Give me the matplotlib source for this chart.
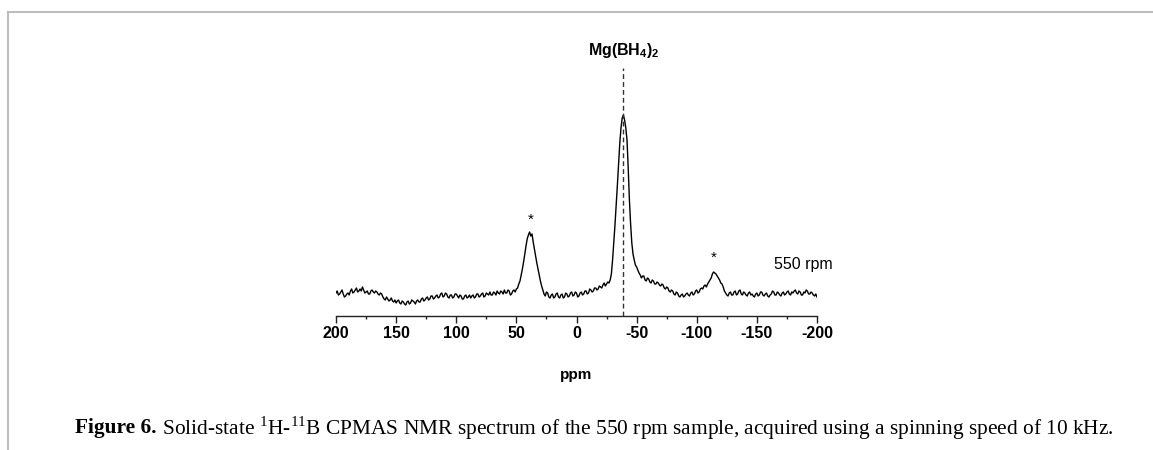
import numpy as np
import matplotlib
matplotlib.use("Agg")
import matplotlib.pyplot as plt
from matplotlib.lines import Line2D
from matplotlib.ticker import MultipleLocator

plt.rcParams['mathtext.fontset'] = 'custom'
plt.rcParams['mathtext.rm'] = 'Liberation Serif'
plt.rcParams['mathtext.bf'] = 'Liberation Sans:bold'
plt.rcParams['axes.unicode_minus'] = False

# 11B CPMAS spectrum, every 1 ppm from 200 to -200
ppm_start, ppm_end = 200, -200
intensity = [
    7, 9, 5, 6, 8, 10, 6, 3, 4, 6,                     # 200 .. 191
    7, 5, 9, 11, 7, 8, 10, 12, 8, 9,                   # 190 .. 181
    11, 9, 13, 10, 7, 8, 9, 6, 6, 9,                   # 180 .. 171
    10, 8, 7, 9, 8, 6, 5, 7, 6, 3,                     # 170 .. 161
    1, 0, 3, 1, -1, 0, 2, -1, -2, 0,                   # 160 .. 151
    -3, -1, 0, -3, -4, -1, -2, -4, -5, -2,             # 150 .. 141
    -1, -4, -3, 0, -1, -2, -4, -1, 0, -2,              # 140 .. 131
    -2, 1, 2, -1, 0, 2, 3, 0, 1, 4,                    # 130 .. 121
    4, 1, 2, 4, 5, 2, 3, 6, 7, 3,                      # 120 .. 111
    4, 7, 6, 3, 2, 5, 5, 2, 3, 6,                      # 110 .. 101
    6, 4, 2, 5, 4, 1, 1, 4, 5, 2,                      # 100 .. 91
    3, 5, 2, 4, 5, 2, 3, 6, 6, 3,                      # 90 .. 81
    4, 6, 7, 3, 4, 7, 6, 5, 8, 5,                      # 80 .. 71
    5, 8, 7, 5, 9, 7, 6, 9, 8, 6,                      # 70 .. 61
    10, 7, 7, 10, 9, 5, 6, 9, 10, 8,                   # 60 .. 51
    11, 12, 16, 19, 25, 31, 38, 46, 54, 61,            # 50 .. 41
    65, 68, 64, 66, 58, 51, 44, 37, 31, 25,            # 40 .. 31
    19, 14, 10, 6, 4, 8, 7, 3, 2, 5,                   # 30 .. 21
    6, 2, 3, 6, 7, 3, 2, 5, 6, 2,                      # 20 .. 11
    3, 7, 6, 3, 4, 7, 8, 4, 5, 8,                      # 10 .. 1
    7, 3, 4, 7, 8, 5, 6, 9, 9, 6,                      # 0 .. -9
    7, 11, 10, 8, 9, 12, 12, 10, 11, 14,               # -10 .. -19
    13, 12, 15, 17, 14, 16, 18, 17, 20, 26,            # -20 .. -29
    40, 57, 75, 95, 115, 137, 157, 172, 182, 185,      # -30 .. -39
    180, 172, 160, 132, 100, 76, 57, 46, 40, 35,       # -40 .. -49
    33, 30, 27, 25, 22, 24, 24, 20, 19, 22,            # -50 .. -59
    21, 18, 17, 20, 19, 16, 16, 18, 17, 15,            # -60 .. -69
    14, 16, 15, 12, 11, 13, 12, 9, 8, 10,              # -70 .. -79
    9, 6, 5, 8, 7, 4, 3, 5, 6, 3,                      # -80 .. -89
    4, 6, 7, 5, 4, 7, 8, 5, 6, 9,                      # -90 .. -99
    10, 7, 8, 11, 12, 11, 14, 15, 13, 16,              # -100 .. -109
    18, 20, 22, 26, 28, 27, 26, 24, 22, 20,            # -110 .. -119
    17, 16, 13, 9, 7, 5, 4, 7, 8, 5,                   # -120 .. -129
    5, 8, 9, 5, 6, 9, 10, 6, 5, 8,                     # -130 .. -139
    7, 5, 4, 7, 8, 5, 6, 4, 3, 6,                      # -140 .. -149
    7, 4, 5, 8, 8, 5, 4, 6, 7, 4,                      # -150 .. -159
    3, 5, 6, 9, 8, 5, 5, 8, 7, 5,                      # -160 .. -169
    4, 7, 8, 5, 6, 8, 9, 6, 5, 8,                      # -170 .. -179
    7, 9, 10, 7, 6, 9, 8, 5, 5, 8,                     # -180 .. -189
    7, 10, 9, 6, 6, 8, 7, 5, 4, 6,                     # -190 .. -199
    3,                                                 # -200
]
ppm = np.linspace(ppm_start, ppm_end, len(intensity))

peak_ppm = -39
peak_label = r"$\mathbf{Mg(BH}_{\mathbf{4}}\mathbf{)}_{\mathbf{2}}$"
sideband_ppm = [38, -114]
sideband_star_y = [80, 42]
sample_label = "550 rpm"
caption_bold = "Figure 6."
caption_rest = (" Solid-state $^{1}$H-$^{11}$B CPMAS NMR spectrum of the 550 rpm sample, "
                "acquired using a spinning speed of 10 kHz.")

fig = plt.figure(figsize=(11.53, 4.5), dpi=100)
ax = fig.add_axes([336 / 1153, 1 - 316 / 450, 481 / 1153, 256 / 450])

ax.plot(ppm, intensity, color="black", lw=1.0)
ax.plot([peak_ppm, peak_ppm], [-16, 232], color="#333333", lw=1.0, dashes=(3.5, 2.2))

ax.text(peak_ppm, 250, peak_label, ha="center", va="center", fontsize=11.5, clip_on=False)
for x, y in zip(sideband_ppm, sideband_star_y):
    ax.text(x, y, "*", ha="center", va="center", fontsize=11, family="Liberation Sans")
ax.text(-189, 36, sample_label, ha="center", va="center", fontsize=11.5, family="Liberation Sans")

ax.set_xlim(200, -200)
ax.set_ylim(-16, 240)
for s in ["top", "left", "right"]:
    ax.spines[s].set_visible(False)
ax.spines["bottom"].set_linewidth(1.0)
ax.spines["bottom"].set_color("#222222")
ax.set_yticks([])
ax.xaxis.set_major_locator(MultipleLocator(50))
ax.xaxis.set_minor_locator(MultipleLocator(25))
ax.tick_params(axis="x", which="major", length=5, width=1, pad=2, color="#222222")
ax.tick_params(axis="x", which="minor", length=2.5, width=1, color="#222222")
for lab in ax.get_xticklabels():
    lab.set_fontfamily("Liberation Sans")
    lab.set_fontweight("bold")
    lab.set_fontsize(11.5)
ax.set_xlabel("ppm", fontsize=11, fontweight="bold", family="Liberation Sans", labelpad=20)

# page frame lines
fig.add_artist(Line2D([8 / 1153, 1], [1 - 12 / 450] * 2, color="#bdbdbd", lw=1.5))
fig.add_artist(Line2D([8 / 1153] * 2, [0, 1 - 12 / 450], color="#bdbdbd", lw=1.5))

# caption
t1 = fig.text(75 / 1153, 1 - 428 / 450, caption_bold, fontsize=15.4, fontweight="bold",
              family="Liberation Serif", va="center")
renderer = fig.canvas.get_renderer()
bb = t1.get_window_extent(renderer)
fig.text(bb.x1 / fig.bbox.width, 1 - 428 / 450, caption_rest, fontsize=15.4,
         family="Liberation Serif", va="center")

plt.savefig("out.png", dpi=100)
